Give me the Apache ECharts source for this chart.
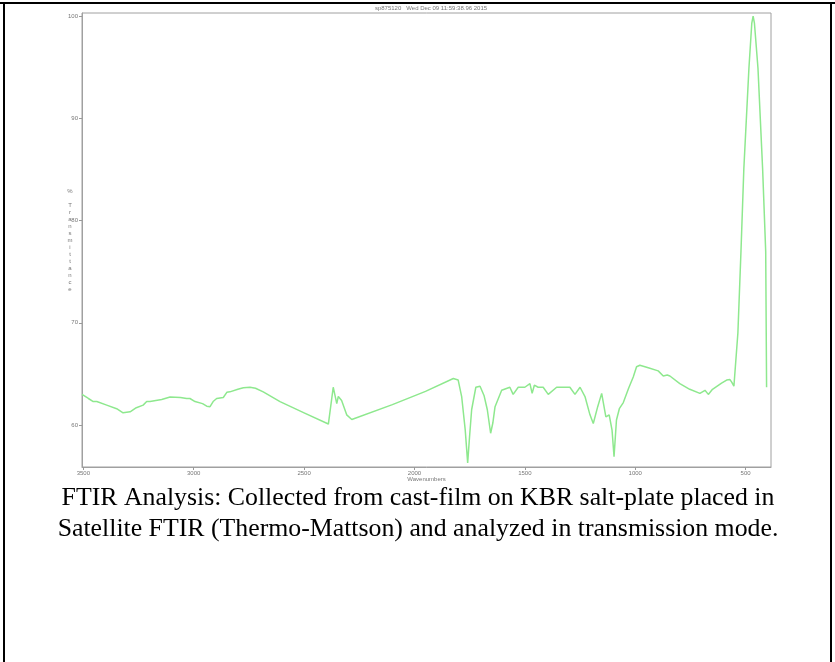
<!DOCTYPE html>
<html>
<head>
<meta charset="utf-8">
<script src="https://cdn.jsdelivr.net/npm/echarts@6/dist/echarts.min.js"></script>
<style>
  html, body { margin: 0; padding: 0; background: #fff; }
  .EC { width: 835px; height: 662px; }
</style>
</head>
<body>
<div class="EC"></div>
<script>
    // spectrum, high wavenumber -> low
    const wavenumbers = [
        3506, 3500, 3477, 3455, 3439, 3394, 3349, 3320, 3311, 3288, 3260, 3229, 3213, 3198, 3145,
        3107, 3060, 3032, 3017, 2994, 2986, 2960, 2941, 2926, 2912, 2896, 2866, 2850, 2836, 2800,
        2775, 2745, 2720, 2685, 2609, 2500, 2390, 2368, 2360, 2352, 2345, 2330, 2307, 2284, 2100,
        1950, 1824, 1802, 1786, 1770, 1759, 1750, 1741, 1722, 1703, 1685, 1670, 1655, 1645, 1635,
        1605, 1568, 1553, 1530, 1500, 1477, 1467, 1457, 1440, 1417, 1394, 1356, 1296, 1273, 1250,
        1227, 1205, 1190, 1170, 1152, 1133, 1118, 1105, 1096, 1085, 1072, 1054, 1030, 1009, 994,
        979, 956, 941, 896, 873, 866, 855, 843, 798, 753, 707, 684, 669, 650, 609,
        586, 571, 563, 553, 548, 535, 521, 508, 485, 472, 466, 460, 444, 423, 409,
        405
    ];
    const transmittance = [
        63.0, 63.0, 62.6, 62.3, 62.3, 61.95, 61.6, 61.2, 61.2, 61.3, 61.7, 61.95, 62.3, 62.3, 62.5,
        62.75, 62.7, 62.6, 62.6, 62.3, 62.4, 62.1, 61.85, 61.8, 62.3, 62.6, 62.7, 63.2, 63.25, 63.5,
        63.65, 63.7, 63.6, 63.25, 62.3, 61.2, 60.1, 63.7, 62.9, 62.1, 62.8, 62.4, 61.0, 60.55, 62.0,
        63.3, 64.55, 64.4, 62.75, 59.5, 56.3, 59.0, 61.5, 63.7, 63.8, 62.9, 61.5, 59.2, 60.2, 61.8,
        63.4, 63.7, 63.0, 63.7, 63.7, 64.05, 63.1, 63.9, 63.7, 63.7, 63.0, 63.7, 63.7, 63.0, 63.7,
        62.75, 61.0, 60.15, 61.8, 63.1, 60.8, 61.0, 59.5, 56.9, 60.5, 61.6, 62.2, 63.6, 64.7, 65.7,
        65.85, 65.7, 65.6, 65.3, 64.8, 64.8, 64.9, 64.8, 64.05, 63.5, 63.1, 63.4, 63.0, 63.5, 64.1,
        64.4, 64.45, 64.2, 63.8, 63.7, 69.0, 77.0, 85.1, 94.9, 99.3, 100.0, 99.3, 94.9, 85.1, 77.0,
        63.7
    ];
    const xTicks = [500, 1000, 1500, 2000, 2500, 3000, 3500];
    const yTicks = [60, 70, 80, 90, 100];
    const chartTitle = 'sp875120   Wed Dec 09 11:59:38.96 2015';
    const yName = '%\n\nT\nr\na\nn\ns\nm\ni\nt\nt\na\nn\nc\ne';
    const captionLines = [
        'FTIR Analysis: Collected from cast-film on KBR salt-plate placed in',
        'Satellite FTIR (Thermo-Mattson) and analyzed in transmission mode.'
    ];

    const points = wavenumbers.map((w, i) => [w, transmittance[i]]);
    const small = { fontSize: 6, color: '#777', fontFamily: 'Liberation Sans' };

    let EC = echarts.init(document.querySelector('.EC'));
    EC.setOption({
        backgroundColor: '#fff',
        animation: false,
        title: {
            text: chartTitle,
            left: 426,
            top: 0,
            textAlign: 'center',
            textStyle: { fontSize: 6, color: '#777', fontWeight: 'normal', fontFamily: 'Liberation Sans' }
        },
        grid: {
            left: 82, right: 64, top: 13, bottom: 195,
            show: true, borderColor: '#a0a0a0', borderWidth: 1
        },
        xAxis: {
            type: 'value',
            inverse: true,
            min: 385,
            max: 3506,
            name: 'Wavenumbers',
            nameLocation: 'middle',
            nameGap: 9,
            nameMoveOverlap: false,
            nameTextStyle: small,
            axisLine: { show: true, lineStyle: { color: '#a0a0a0' } },
            axisTick: { show: true, length: 3, customValues: xTicks, lineStyle: { color: '#999' } },
            axisLabel: { customValues: xTicks, margin: 3, formatter: v => String(v), ...small },
            splitLine: { show: false }
        },
        yAxis: {
            type: 'value',
            min: 55.9,
            max: 100.3,
            name: yName,
            nameLocation: 'middle',
            nameRotate: 0,
            nameGap: 12,
            nameMoveOverlap: false,
            nameTextStyle: { ...small, lineHeight: 7, align: 'center' },
            axisLine: { show: true, lineStyle: { color: '#a0a0a0' } },
            axisTick: { show: true, length: 3, customValues: yTicks, lineStyle: { color: '#999' } },
            axisLabel: { customValues: yTicks, margin: 4, ...small },
            splitLine: { show: false }
        },
        series: [{
            type: 'line',
            data: points,
            showSymbol: false,
            smooth: false,
            lineStyle: { color: '#8ee88e', width: 1.5 }
        }],
        graphic: [
            { type: 'line', shape: { x1: 0, y1: 3, x2: 835, y2: 3 }, style: { stroke: '#000', lineWidth: 2 } },
            { type: 'line', shape: { x1: 4, y1: 3, x2: 4, y2: 662 }, style: { stroke: '#000', lineWidth: 2 } },
            { type: 'line', shape: { x1: 831, y1: 3, x2: 831, y2: 662 }, style: { stroke: '#000', lineWidth: 2 } },
            {
                type: 'text', x: 418, y: 498,
                style: { text: captionLines[0], fill: '#000', font: '25.8px "Liberation Serif"', textAlign: 'center', textVerticalAlign: 'middle' }
            },
            {
                type: 'text', x: 418, y: 529,
                style: { text: captionLines[1], fill: '#000', font: '25.8px "Liberation Serif"', textAlign: 'center', textVerticalAlign: 'middle' }
            }
        ]
    });
</script>
</body>
</html>
